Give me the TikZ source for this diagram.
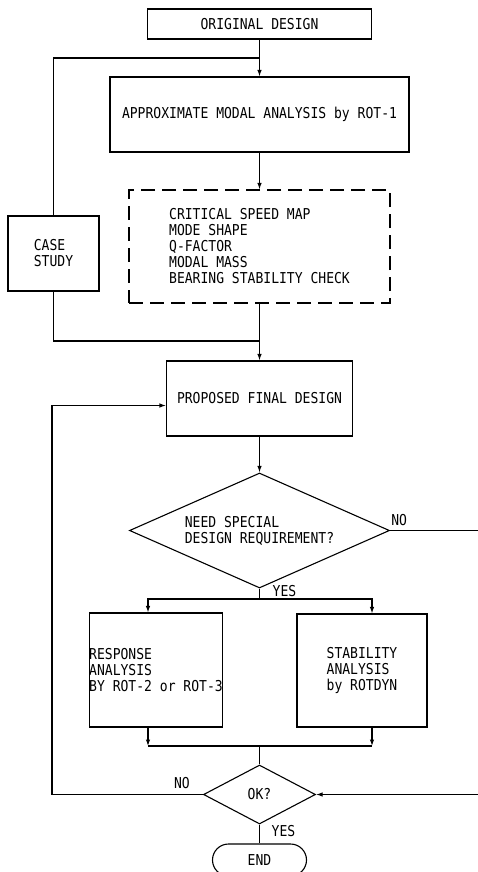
\documentclass[tikz,border=0pt]{standalone}
\usepackage{fontspec}
\usetikzlibrary{arrows.meta,shapes.geometric}
\newfontfamily\chartfont[FakeStretch=0.87]{DejaVu Sans Mono}
\newcommand{\chart}{\chartfont\fontsize{15}{16}\selectfont}
\tikzset{
 every node/.append style={font=\chart,align=center},
 box/.style={draw,line width=1.1pt,inner sep=0pt},
 results/.style={box,dash pattern=on 14pt off 7pt},
 query/.style={draw,diamond,line width=1.1pt,inner sep=0pt},
 stopbox/.style={box,rounded corners=16pt},
 word/.style={inner sep=1pt},
 flow/.style={-{Latex[length=6.5pt,width=4.5pt]},line width=1.1pt},
 route/.style={line width=1.1pt},
}

\begin{document}
\begin{tikzpicture}[x=1pt,y=-1pt]

\useasboundingbox (0,0) rectangle (478,872);
% design loop
\node[box,minimum width=224pt,minimum height=30pt] (orig) at (259.5,24) {ORIGINAL DESIGN};
\node[box,minimum width=299pt,minimum height=75pt] (approx) at (259.5,114.5) {APPROXIMATE MODAL ANALYSIS by ROT-1};
\node[results,minimum width=261pt,minimum height=113pt,align=left] (maps) at (259.5,246.5) {CRITICAL SPEED MAP\\MODE SHAPE\\Q-FACTOR\\MODAL MASS\\BEARING STABILITY CHECK};
\node[box,minimum width=91pt,minimum height=75pt,align=left] (case) at (53.5,253.5) {CASE\\STUDY};
\node[box,minimum width=186pt,minimum height=75pt] (final) at (259.5,398.5) {PROPOSED FINAL DESIGN};
\coordinate (split) at (259.5,58);
\coordinate (merge) at (259.5,341);
\draw[flow] (orig.south) -- (approx.north);
\draw[route] (split) -| (case.north);
\draw[flow] (approx.south) -- (maps.north);
\draw[flow] (maps.south) -- (final.north);
\draw[route] (case.south) |- (merge);

% special requirements
\node[query,minimum width=260pt,minimum height=115pt,aspect=2.26,align=left] (need) at (259.5,530.5) {NEED SPECIAL\\DESIGN REQUIREMENT?};
\node[box,minimum width=132pt,minimum height=114pt,align=left] (resp) at (156,670) {RESPONSE\\ANALYSIS\\BY ROT-2 or ROT-3};
\node[box,minimum width=130pt,minimum height=113pt,align=left] (stab) at (362,670.5) {STABILITY\\ANALYSIS\\by ROTDYN};
\node[query,minimum width=112pt,minimum height=59pt,aspect=1.9] (ok) at (259.5,794.5) {OK?};
\node[stopbox,minimum width=94pt,minimum height=32pt] (finish) at (259.5,860) {END};
\draw[flow] (final.south) -- (need.north);

\coordinate (fork) at (259.5,599);
\coordinate (join) at (259.5,746);
\coordinate (respin) at ([xshift=-8pt]resp.north);
\coordinate (stabin) at ([xshift=10pt]stab.north);
\coordinate (respout) at ([xshift=-8pt]resp.south);
\coordinate (stabout) at ([xshift=10pt]stab.south);
\draw[route] (need.south) -- (fork);
\draw[flow] (fork) -| (respin);
\draw[flow] (fork) -| (stabin);
\draw[flow] (respout) -- (respout |- join);
\draw[flow] (stabout) -- (stabout |- join);
\draw[route] (respout |- join) -- (stabout |- join);
\draw[route] (join) -- (ok.north);
\draw[route] (ok.south) -- (finish.north);

% NO branches
\coordinate (rim) at (482,0);
\coordinate (loop) at (52,0);
\coordinate (back) at ([yshift=-7pt]final.west);
\draw[flow] (need.east) -| (rim |- ok.east) -- (ok.east);
\draw[flow] (ok.west) -| (loop |- back) -- (back);

\node[word,anchor=south west] (needno) at ([yshift=4pt]need.east) {NO};
\node[word,anchor=west] (needyes) at ([xshift=12pt,yshift=-2pt]need.south) {YES};
\node[word,anchor=south east] (okno) at ([xshift=-12pt,yshift=5pt]ok.west) {NO};
\node[word,anchor=north west] (okyes) at ([xshift=11pt]ok.south) {YES};

\end{tikzpicture}
\end{document}
